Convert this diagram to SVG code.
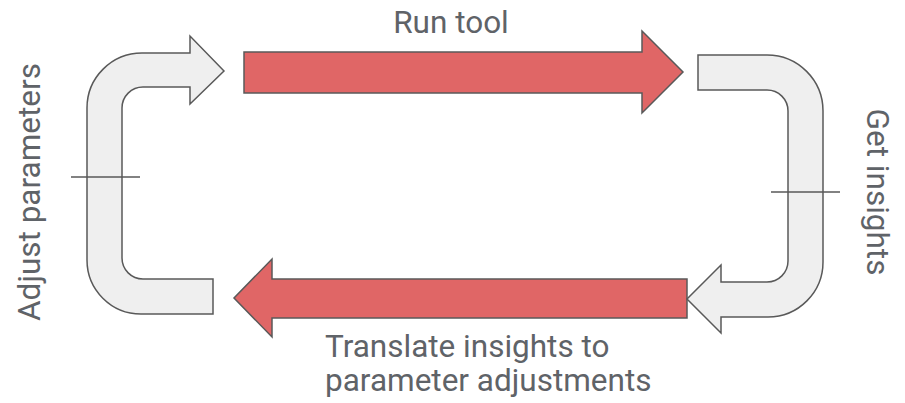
<svg xmlns="http://www.w3.org/2000/svg" width="905" height="403" viewBox="0 0 905 403">
<style>
.red{fill:#e06666;stroke:#595959;stroke-width:1.5;stroke-linejoin:miter}
.grey{fill:#efefef;stroke:#595959;stroke-width:1.5}
.tick{stroke:#595959;stroke-width:1.5;fill:none}
.lbl{font-family:Roboto,"Liberation Sans",sans-serif;font-size:31.5px;fill:#5f6368}
</style>
<rect width="905" height="403" fill="#ffffff"/>
<g id="connectors">
<g id="run-tool-arrow"><path class="red" d="M244,52 L642,52 L642,31 L683,72 L642,113 L642,93 L244,93 Z"/></g>
<g id="translate-arrow"><path class="red" d="M687,279 L272,279 L272,259 L234,298 L272,337 L272,318 L687,318 Z"/></g>
<g id="adjust-arrow"><path class="grey" d="M224,71 L190,36 L190,53 L142,53 A55,55 0 0 0 87,108 L87,260 A54,54 0 0 0 141,314 L213,314 L213,279 L143,279 A21,21 0 0 1 122,258 L122,108 A21,21 0 0 1 143,87 L190,87 L190,104 Z"/>
<line class="tick" x1="71" y1="177" x2="140" y2="177"/></g>
<g id="insights-arrow"><path class="grey" d="M698,55 L767,55 A56,56 0 0 1 823,111 L823,262 A55,55 0 0 1 768,317 L721,317 L721,333 L687,299 L721,265 L721,282 L767,282 A21,21 0 0 0 788,261 L788,111 A21,21 0 0 0 767,90 L698,90 Z"/>
<line class="tick" x1="771" y1="192" x2="840" y2="192"/></g>
</g>
<g id="label-run-tool"><text class="lbl" x="451" y="33" text-anchor="middle">Run tool</text></g>
<g id="label-translate"><text class="lbl" x="325" y="357">Translate insights to</text><text class="lbl" x="325" y="391">parameter adjustments</text></g>
<g id="label-adjust"><text class="lbl" transform="translate(40,192) rotate(-90)" text-anchor="middle">Adjust parameters</text></g>
<g id="label-insights"><text class="lbl" transform="translate(867,192) rotate(90)" text-anchor="middle">Get insights</text></g>
</svg>
